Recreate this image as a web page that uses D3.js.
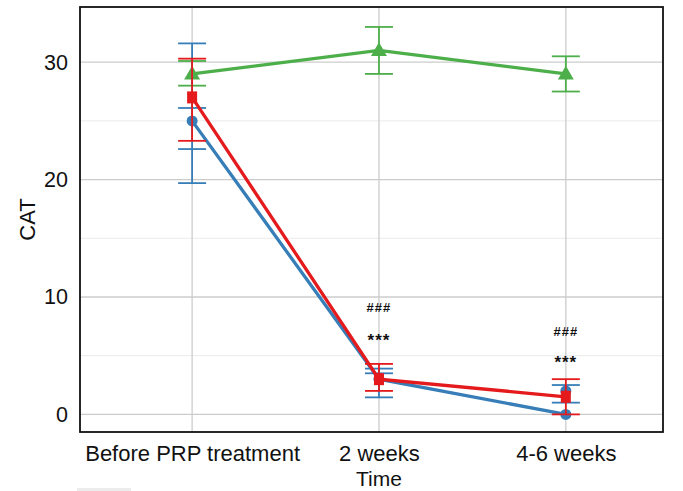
<!DOCTYPE html>
<html>
<head>
<meta charset="utf-8">
<script src="https://cdn.jsdelivr.net/npm/d3@7"></script>
<style>
  body { margin: 0; background: #fff; }
  svg { display: block; }
  text { font-family: "Liberation Sans", Arial, sans-serif; fill: #111; }
</style>
</head>
<body>
<div id="chart"></div>
<script>
var categories = ["Before PRP treatment", "2 weeks", "4-6 weeks"];
var yTicks = [0, 10, 20, 30];
var yMinor = [5, 15, 25];

// green series (triangles)
var greenMean = [29, 31, 29];
var greenLow = [28, 29, 27.5];
var greenHigh = [30.1, 33, 30.5];

// blue series (circles) - caps drawn at several levels
var blueMean = [25, 3, 0];
var blueCaps = [[31.6, 26.1, 22.6, 19.7], [3.9, 3.5, 1.45], [2.5, 1.0]];
var blueExtra = [null, null, 2];

// red series (squares)
var redMean = [27, 3, 1.5];
var redLow = [23.3, 2.0, 0];
var redHigh = [30.3, 4.3, 3.0];

// significance marks
var marks = [
  { cat: 1, y: 9.0, text: "###", size: 13 },
  { cat: 1, y: 6.2, text: "***", size: 17 },
  { cat: 2, y: 7.0, text: "###", size: 13 },
  { cat: 2, y: 4.3, text: "***", size: 17 }
];

var colors = { blue: "#377eb8", red: "#e41a1c", green: "#4daf4a" };

var width = 683, height = 491;
var plotL = 80, plotR = 663, plotT = 7, plotB = 432;

var svg = d3.select("#chart").append("svg")
  .attr("width", width).attr("height", height);

var x = d3.scaleLinear().domain([-0.6, 2.52]).range([plotL, plotR]);
var y = d3.scaleLinear().domain([-1.5, 34.7]).range([plotB, plotT]);

// grid
var grid = svg.append("g");
grid.selectAll(".minor").data(yMinor).enter().append("line")
  .attr("x1", plotL).attr("x2", plotR)
  .attr("y1", function(d){ return y(d); }).attr("y2", function(d){ return y(d); })
  .attr("stroke", "#ebebeb").attr("stroke-width", 1);
grid.selectAll(".major").data(yTicks).enter().append("line")
  .attr("x1", plotL).attr("x2", plotR)
  .attr("y1", function(d){ return y(d); }).attr("y2", function(d){ return y(d); })
  .attr("stroke", "#cccccc").attr("stroke-width", 1.3);
grid.selectAll(".vert").data(categories).enter().append("line")
  .attr("x1", function(d, i){ return x(i); }).attr("x2", function(d, i){ return x(i); })
  .attr("y1", plotT).attr("y2", plotB)
  .attr("stroke", "#cccccc").attr("stroke-width", 1.3);

// axes
var yAxis = d3.axisLeft(y).tickValues(yTicks).tickSize(0).tickPadding(12);
var ya = svg.append("g").attr("transform", "translate(" + plotL + ",0)").call(yAxis);
ya.select(".domain").remove();
ya.selectAll("text").style("font-size", "21.5px").attr("fill", "#111");

var xAxis = d3.axisBottom(x).tickValues([0, 1, 2])
  .tickFormat(function(d){ return categories[d]; }).tickSize(0).tickPadding(13);
var xa = svg.append("g").attr("transform", "translate(0," + plotB + ")").call(xAxis);
xa.select(".domain").remove();
xa.selectAll("text").style("font-size", "22px").attr("fill", "#111");

svg.append("text").attr("x", x(1)).attr("y", 486)
  .attr("text-anchor", "middle").style("font-size", "21px").text("Time");
svg.append("text").attr("transform", "translate(35," + (plotT + plotB) / 2 + ") rotate(-90)")
  .attr("text-anchor", "middle").style("font-size", "22px").text("CAT");

var line = d3.line().x(function(d, i){ return x(i); }).y(function(d){ return y(d); });

function errorBar(g, i, lo, hi, caps, color) {
  g.append("line").attr("x1", x(i)).attr("x2", x(i))
    .attr("y1", y(lo)).attr("y2", y(hi))
    .attr("stroke", color).attr("stroke-width", 1.8);
  caps.forEach(function(c){
    g.append("line").attr("x1", x(i) - 14).attr("x2", x(i) + 14)
      .attr("y1", y(c)).attr("y2", y(c))
      .attr("stroke", color).attr("stroke-width", 1.8);
  });
}

// green
var gG = svg.append("g");
greenMean.forEach(function(m, i){
  errorBar(gG, i, greenLow[i], greenHigh[i], [greenLow[i], greenHigh[i]], colors.green);
});
gG.append("path").datum(greenMean).attr("d", line)
  .attr("fill", "none").attr("stroke", colors.green).attr("stroke-width", 3.3);
gG.selectAll("path.tri").data(greenMean).enter().append("path")
  .attr("d", d3.symbol().type(d3.symbolTriangle).size(110))
  .attr("transform", function(d, i){ return "translate(" + x(i) + "," + (y(d) + 1) + ")"; })
  .attr("fill", colors.green);

// blue
var gB = svg.append("g");
blueCaps.forEach(function(c, i){
  errorBar(gB, i, d3.min(c), d3.max(c), c, colors.blue);
});
gB.append("path").datum(blueMean).attr("d", line)
  .attr("fill", "none").attr("stroke", colors.blue).attr("stroke-width", 3.3);
gB.selectAll("circle.m").data(blueMean).enter().append("circle")
  .attr("cx", function(d, i){ return x(i); }).attr("cy", function(d){ return y(d); })
  .attr("r", 5.5).attr("fill", colors.blue);
blueExtra.forEach(function(d, i){
  if (d === null) return;
  gB.append("circle").attr("cx", x(i)).attr("cy", y(d)).attr("r", 5.5).attr("fill", colors.blue);
});

// red
var gR = svg.append("g");
redMean.forEach(function(m, i){
  errorBar(gR, i, redLow[i], redHigh[i], [redLow[i], redHigh[i]], colors.red);
});
gR.append("path").datum(redMean).attr("d", line)
  .attr("fill", "none").attr("stroke", colors.red).attr("stroke-width", 3.3);
gR.selectAll("rect.m").data(redMean).enter().append("rect")
  .attr("x", function(d, i){ return x(i) - 5; }).attr("y", function(d){ return y(d) - 6; })
  .attr("width", 10).attr("height", 12).attr("fill", colors.red);

// significance marks
svg.selectAll("text.mark").data(marks).enter().append("text")
  .attr("x", function(d){ return x(d.cat); }).attr("y", function(d){ return y(d.y); })
  .attr("text-anchor", "middle").attr("dominant-baseline", "middle")
  .style("font-size", function(d){ return d.size + "px"; })
  .style("letter-spacing", "1px")
  .style("font-weight", "bold").text(function(d){ return d.text; });

// frame
svg.append("rect").attr("x", plotL).attr("y", plotT)
  .attr("width", plotR - plotL).attr("height", plotB - plotT)
  .attr("fill", "none").attr("stroke", "#111").attr("stroke-width", 1.8);

// faint bar below
svg.append("rect").attr("x", 77).attr("y", 488).attr("width", 54).attr("height", 3)
  .attr("fill", "#ececec");
</script>
</body>
</html>
